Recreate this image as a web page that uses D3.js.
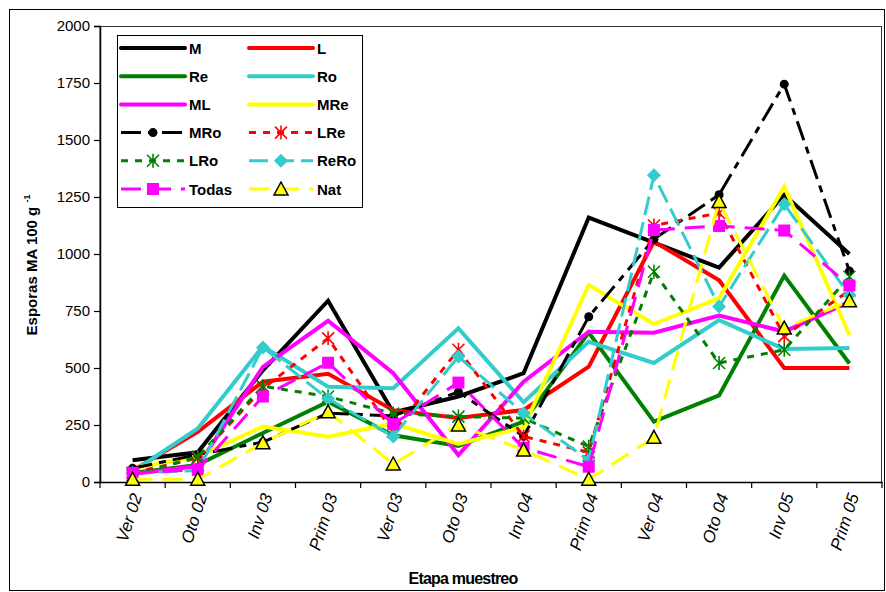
<!DOCTYPE html>
<html>
<head>
<meta charset="utf-8">
<script src="https://cdn.jsdelivr.net/npm/d3@7"></script>
<style>
  html, body { margin: 0; padding: 0; background: #fff; }
  svg { display: block; font-family: "Liberation Sans", Arial, sans-serif; }
</style>
</head>
<body>
<svg id="chart" width="886" height="592"></svg>
<script>
// Sampling stages (seasons) and spore counts per treatment
const categories = ["Ver 02", "Oto 02", "Inv 03", "Prim 03", "Ver 03", "Oto 03",
                    "Inv 04", "Prim 04", "Ver 04", "Oto 04", "Inv 05", "Prim 05"];
const yTicks = [0, 250, 500, 750, 1000, 1250, 1500, 1750, 2000];

const M     = [95, 130, 490, 795, 305, 375, 477, 1160, 1050, 940, 1260, 1000];
const L     = [50, 220, 440, 475, 315, 281, 316, 506, 1055, 885, 500, 500];
const Re    = [40, 75, 215, 352, 205, 158, 265, 655, 265, 380, 905, 520];
const Ro    = [45, 235, 595, 418, 411, 674, 350, 615, 522, 710, 583, 588];
const ML    = [35, 70, 505, 707, 477, 118, 440, 659, 655, 730, 660, 790];
const MRe   = [60, 112, 243, 199, 257, 167, 240, 864, 693, 806, 1295, 645];
const MRo   = [60, 120, 175, 302, 290, 395, 200, 725, 1065, 1260, 1745, 925];
const LRe   = [40, 105, 410, 630, 220, 580, 200, 130, 1125, 1180, 640, 840];
const LRo   = [30, 110, 420, 375, 300, 287, 280, 155, 922, 522, 580, 900];
const ReRo  = [40, 50, 590, 365, 200, 550, 301, 95, 1345, 770, 1218, 820];
const Todas = [40, 53, 375, 523, 254, 436, 150, 67, 1105, 1123, 1103, 862];
const Nat   = [12, 12, 172, 308, 79, 250, 140, 12, 196, 1230, 675, 795];

// Drawing styles for each treatment (in drawing / legend order)
const series = [
  { name: "M",     values: M,     color: "#000000", width: 4, dash: null,        marker: null },
  { name: "L",     values: L,     color: "#FF0000", width: 4, dash: null,        marker: null },
  { name: "Re",    values: Re,    color: "#008000", width: 4, dash: null,        marker: null },
  { name: "Ro",    values: Ro,    color: "#33CCCC", width: 4, dash: null,        marker: null },
  { name: "ML",    values: ML,    color: "#FF00FF", width: 4, dash: null,        marker: null },
  { name: "MRe",   values: MRe,   color: "#FFFF00", width: 4, dash: null,        marker: null },
  { name: "MRo",   values: MRo,   color: "#000000", width: 3, dash: "20,7,7,7",  marker: "circle" },
  { name: "LRe",   values: LRe,   color: "#FF0000", width: 3, dash: "7,7",       marker: "asterisk" },
  { name: "LRo",   values: LRo,   color: "#008000", width: 3, dash: "7,7",       marker: "asterisk" },
  { name: "ReRo",  values: ReRo,  color: "#33CCCC", width: 3, dash: "19,7",      marker: "diamond" },
  { name: "Todas", values: Todas, color: "#FF00FF", width: 3, dash: "20,10",     marker: "square" },
  { name: "Nat",   values: Nat,   color: "#FFFF00", width: 3, dash: "20,10",     marker: "triangle" }
];

const svg = d3.select("#chart");
const plot = { left: 100, right: 882, top: 26, bottom: 482 };

const x = d3.scaleBand().domain(categories).range([plot.left, plot.right]);
const y = d3.scaleLinear().domain([0, 2000]).range([plot.bottom, plot.top]);
const cx = c => x(c) + x.bandwidth() / 2;

// outer frame of the chart
svg.append("rect")
  .attr("x", 9.5).attr("y", 9.5).attr("width", 875).attr("height", 581)
  .attr("fill", "#fff").attr("stroke", "#000").attr("stroke-width", 1);

// plot area frame
svg.append("rect")
  .attr("x", plot.left).attr("y", plot.top + 0.5)
  .attr("width", plot.right - plot.left - 0.5).attr("height", plot.bottom - plot.top)
  .attr("fill", "#fff").attr("stroke", "#333").attr("stroke-width", 1);

// axes
const yAxis = svg.append("g")
  .attr("transform", `translate(${plot.left},0)`)
  .call(d3.axisLeft(y).tickValues(yTicks).tickSize(6).tickPadding(4).tickFormat(d3.format("d")));
yAxis.select(".domain").attr("stroke", "#000").attr("stroke-width", 1.5);
yAxis.selectAll(".tick line").attr("stroke", "#000").attr("stroke-width", 1.2);
yAxis.selectAll(".tick text")
  .attr("font-size", 15).attr("fill", "#000")
  .attr("font-family", "'Liberation Sans', Arial, sans-serif");

const xAxis = svg.append("g")
  .attr("transform", `translate(0,${plot.bottom})`)
  .call(d3.axisBottom(x).tickSize(0).tickPadding(0));
xAxis.select(".domain").attr("stroke", "#000").attr("stroke-width", 1.5);
// boundary ticks between categories
xAxis.selectAll(".bound")
  .data(d3.range(categories.length + 1))
  .join("line")
  .attr("class", "bound")
  .attr("x1", i => plot.left + i * x.step()).attr("x2", i => plot.left + i * x.step())
  .attr("y1", 0).attr("y2", 6)
  .attr("stroke", "#000").attr("stroke-width", 1.2);
xAxis.selectAll(".tick text")
  .attr("font-size", 17).attr("font-style", "italic").attr("fill", "#000")
  .attr("font-family", "'Liberation Sans', Arial, sans-serif")
  .attr("text-anchor", "end")
  .attr("dy", "0.35em")
  .attr("transform", "translate(4,12) rotate(-72)");

// axis titles
const yTitle = svg.append("text")
  .attr("transform", "translate(37,265) rotate(-90)")
  .attr("text-anchor", "middle")
  .attr("font-size", 15).attr("font-weight", "bold").attr("fill", "#000");
yTitle.append("tspan").text("Esporas MA 100 g ");
yTitle.append("tspan").attr("font-size", 9).attr("dy", -7).text("-1");

svg.append("text")
  .attr("x", 463).attr("y", 584)
  .attr("text-anchor", "middle")
  .attr("font-size", 16).attr("font-weight", "bold").attr("letter-spacing", -0.8)
  .attr("fill", "#000")
  .text("Etapa muestreo");

// marker shapes
function drawMarker(g, type, color, px, py) {
  if (type === "circle") {
    g.append("circle").attr("cx", px).attr("cy", py).attr("r", 4.5).attr("fill", color);
  } else if (type === "square") {
    g.append("rect").attr("x", px - 6).attr("y", py - 6).attr("width", 12).attr("height", 12)
      .attr("fill", color);
  } else if (type === "diamond") {
    g.append("path").attr("d", `M${px},${py - 7}L${px + 7},${py}L${px},${py + 7}L${px - 7},${py}Z`)
      .attr("fill", color);
  } else if (type === "triangle") {
    g.append("path").attr("d", `M${px},${py - 7}L${px + 7},${py + 6}L${px - 7},${py + 6}Z`)
      .attr("fill", "#FFFF00").attr("stroke", "#000").attr("stroke-width", 1.5);
  } else if (type === "asterisk") {
    const s = 6;
    g.append("path")
      .attr("d", `M${px - s},${py - s}L${px + s},${py + s}M${px - s},${py + s}L${px + s},${py - s}M${px},${py - s - 1}L${px},${py + s + 1}`)
      .attr("stroke", color).attr("stroke-width", 1.6).attr("fill", "none");
  }
}

const line = d3.line().x((d, i) => cx(categories[i])).y(d => y(d));

const lines = svg.append("g");
series.forEach(s => {
  const g = lines.append("g");
  g.append("path")
    .datum(s.values)
    .attr("d", line)
    .attr("fill", "none")
    .attr("stroke", s.color)
    .attr("stroke-width", s.width)
    .attr("stroke-linejoin", "miter")
    .attr("stroke-dasharray", s.dash);
  if (s.marker) {
    s.values.forEach((v, i) => drawMarker(g, s.marker, s.color, cx(categories[i]), y(v)));
  }
});

// legend
const legend = svg.append("g");
legend.append("rect")
  .attr("x", 117.5).attr("y", 35.5).attr("width", 245).attr("height", 172)
  .attr("fill", "#fff").attr("stroke", "#000").attr("stroke-width", 1);

series.forEach((s, k) => {
  const col = k % 2, row = Math.floor(k / 2);
  const x0 = col === 0 ? 121 : 249;
  const yy = 48 + row * 28.2;
  const g = legend.append("g");
  g.append("line")
    .attr("x1", x0).attr("x2", x0 + 64).attr("y1", yy).attr("y2", yy)
    .attr("stroke", s.color).attr("stroke-width", s.width)
    .attr("stroke-linecap", s.dash ? "butt" : "round")
    .attr("stroke-dasharray", s.dash);
  if (s.marker) drawMarker(g, s.marker, s.color, x0 + 32, yy);
  g.append("text")
    .attr("x", x0 + 68).attr("y", yy + 5.5)
    .attr("font-size", 15).attr("font-weight", "bold").attr("fill", "#000")
    .text(s.name);
});
</script>
</body>
</html>
